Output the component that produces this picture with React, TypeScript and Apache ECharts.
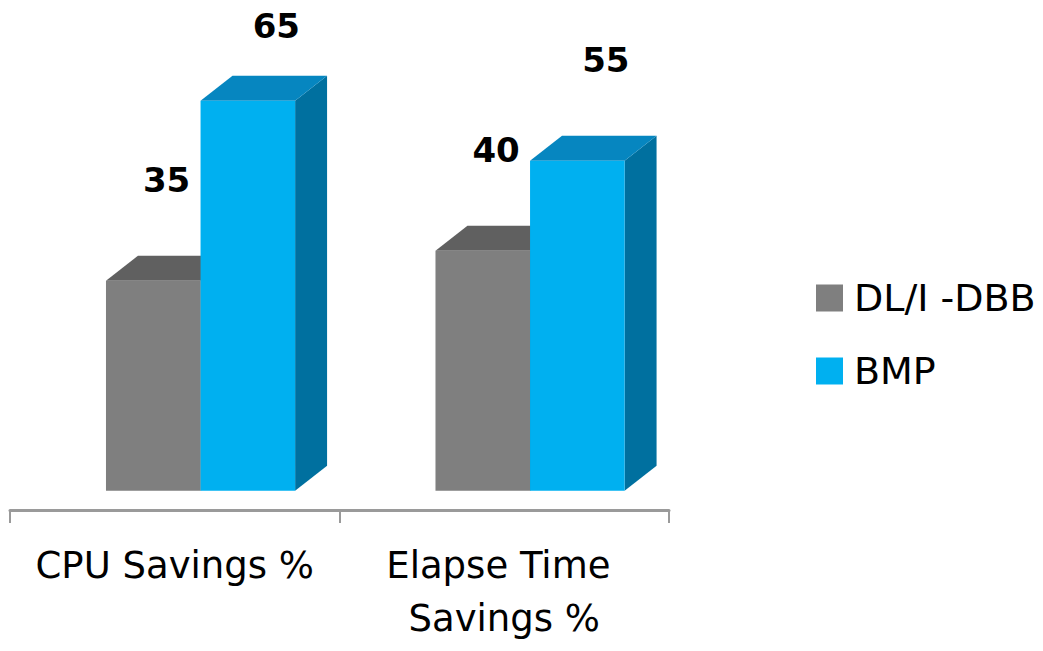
import React, { useEffect, useRef } from "react";
import * as echarts from "echarts";

const categories = ["CPU Savings %", "Elapse Time Savings %"];
const seriesNames = ["DL/I -DBB", "BMP"];
const dlidbbValues = [35, 40];
const bmpValues = [65, 55];

const FONT = "'DejaVu Sans', sans-serif";

type Palette = { front: string; top: string; side: string };

const palettes: Palette[] = [
  { front: "#7f7f7f", top: "#606060", side: "#555555" },
  { front: "#00b0f0", top: "#0686c0", side: "#00709f" },
];

const labelDxFrac = [0.184, 0.23];

function makeRenderItem(seriesIdx: number) {
  const pal = palettes[seriesIdx];
  return (params: any, api: any) => {
    const cat = api.value(0);
    const v = api.value(1);
    const p0 = api.coord([cat, 0]);
    const p1 = api.coord([cat, v]);
    const cx = p0[0];
    const y0 = p0[1];
    const y1 = p1[1];
    const band = api.size([1, 0])[0];
    const w = band * 0.287;
    const left = cx - band * 0.2087 + seriesIdx * w;
    const dx = band * 0.097;
    const dy = band * 0.0759;
    return {
      type: "group",
      children: [
        {
          type: "polygon",
          shape: {
            points: [
              [left + w, y1],
              [left + w + dx, y1 - dy],
              [left + w + dx, y0 - dy],
              [left + w, y0],
            ],
          },
          style: { fill: pal.side },
        },
        {
          type: "polygon",
          shape: {
            points: [
              [left, y1],
              [left + dx, y1 - dy],
              [left + w + dx, y1 - dy],
              [left + w, y1],
            ],
          },
          style: { fill: pal.top },
        },
        {
          type: "rect",
          shape: { x: left, y: y1, width: w, height: y0 - y1 },
          style: { fill: pal.front },
        },
        {
          type: "text",
          x: left + band * labelDxFrac[seriesIdx],
          y: Math.max(26, y1 - 101),
          style: {
            text: String(v),
            align: "center",
            verticalAlign: "middle",
            fill: "#000000",
            font: `bold 34px ${FONT}`,
          },
        },
      ],
    };
  };
}

export default function App() {
  const ref = useRef<HTMLDivElement>(null);
  useEffect(() => {
    if (!ref.current) return;
    const chart = echarts.init(ref.current, undefined, { renderer: "svg" });
    const seriesData = [dlidbbValues, bmpValues];
    chart.setOption({
      animation: false,
      backgroundColor: "#ffffff",
      grid: { left: 10, right: 374, top: 10.8, bottom: 141, containLabel: false },
      xAxis: {
        type: "category",
        data: categories,
        boundaryGap: true,
        axisLine: { onZero: false, lineStyle: { color: "#9a9a9a", width: 3 } },
        axisTick: { show: true, length: 13, lineStyle: { color: "#9a9a9a", width: 2 } },
        axisLabel: {
          interval: 0,
          margin: 29,
          color: "#000000",
          fontFamily: FONT,
          fontSize: 37,
          lineHeight: 53,
          width: 300,
          overflow: "break",
        },
        splitLine: { show: false },
      },
      yAxis: {
        type: "value",
        min: -3.2,
        max: 80,
        show: false,
        splitLine: { show: false },
      },
      legend: {
        orient: "vertical",
        left: 811,
        top: 274,
        itemWidth: 27,
        itemHeight: 27,
        itemGap: 35,
        icon: "rect",
        textStyle: { fontFamily: FONT, fontSize: 38, lineHeight: 35, color: "#000000", padding: [0, 0, 0, 6] },
        data: seriesNames,
      },
      series: seriesNames.map((name, si) => ({
        name,
        type: "custom",
        renderItem: makeRenderItem(si),
        itemStyle: { color: palettes[si].front },
        encode: { x: 0, y: 1 },
        data: categories.map((_, i) => [i, seriesData[si][i]]),
      })),
    });
    return () => chart.dispose();
  }, []);
  return <div ref={ref} style={{ width: 1043, height: 651, position: "absolute", left: 0, top: 0 }} />;
}
